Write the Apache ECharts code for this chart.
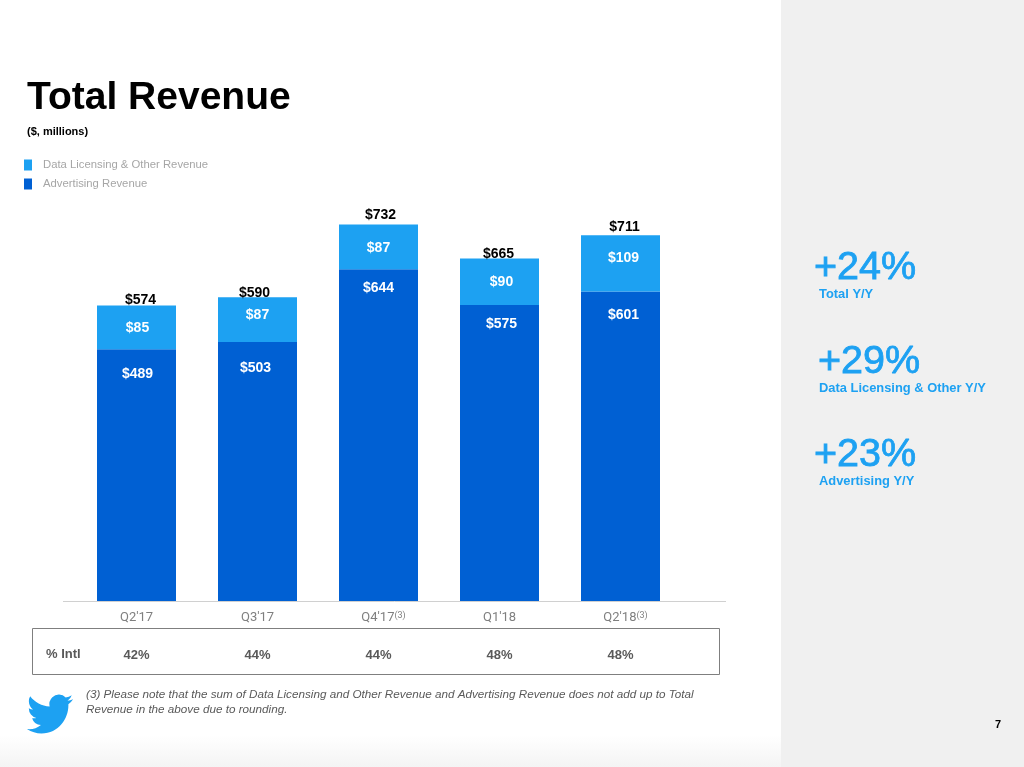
<!DOCTYPE html>
<html>
<head>
<meta charset="utf-8">
<title>Total Revenue</title>
<script src="https://cdn.jsdelivr.net/npm/echarts@6/dist/echarts.min.js"></script>
<style>
    html, body { margin: 0; padding: 0; background: #fff; }
    #main { width: 1024px; height: 767px; }
</style>
</head>
<body>
<div id="main"></div>
<script>
    var categories = ["Q2'17", "Q3'17", "Q4'17", "Q1'18", "Q2'18"];
    var footnoted = ["Q4'17", "Q2'18"];
    var advertising = [489, 503, 644, 575, 601];
    var licensing = [85, 87, 87, 90, 109];
    var totals = [574, 590, 732, 665, 711];
    var intlShare = ['42%', '44%', '44%', '48%', '48%'];

    // label nudges [x, y], the slide does not place these consistently
    var advertisingLabelShift = [[1, 1], [-2, 1], [0, 1], [2, 1], [3, 1]];
    var licensingLabelShift = [[1, 1], [0, -4], [0, 1], [2, 0], [3, -5]];
    var totalLabelShift = [[4, 2], [-3, 3], [2, -1], [-1, 3], [4, 0]];
    var advertisingLabelGap = [17, 18, 11, 11, 16];

    var LIGHT_BLUE = '#1da1f2';
    var DARK_BLUE = '#0060d3';
    var SANS = '"Liberation Sans", Arial, sans-serif';
    var BIRD = 'M23.953 4.57a10 10 0 0 1 -2.825 .775a4.958 4.958 0 0 0 2.163 -2.723c-.951 .555 -2.005 .959 -3.127 1.184a4.92 4.92 0 0 0 -8.384 4.482C7.69 8.095 4.067 6.13 1.64 3.162a4.822 4.822 0 0 0 -.666 2.475c0 1.71 .87 3.213 2.188 4.096a4.904 4.904 0 0 1 -2.228 -.616v.06a4.923 4.923 0 0 0 3.946 4.827a4.996 4.996 0 0 1 -2.212 .085a4.936 4.936 0 0 0 4.604 3.417a9.867 9.867 0 0 1 -6.102 2.105c-.39 0 -.779 -.023 -1.17 -.067a13.995 13.995 0 0 0 7.557 2.209c9.053 0 13.998 -7.496 13.998 -13.985c0 -.21 0 -.42 -.015 -.63A9.935 9.935 0 0 0 24 4.59z';

    // the graphic component has no plain path type, so register the logo as a shape
    echarts.graphic.registerShape('twitterBird', echarts.graphic.extendPath(BIRD, {}));

    function money(value) {
        return '$' + value;
    }

    function panelText(x, y, text, size, weight, color, style) {
        return {
            type: 'text',
            x: x,
            y: y,
            silent: true,
            style: {
                text: text,
                fontFamily: SANS,
                fontSize: size,
                fontWeight: weight || 'normal',
                fontStyle: style || 'normal',
                fill: color,
                lineHeight: size + 3,
                verticalAlign: 'middle'
            }
        };
    }

    // big Y/Y figures, the slide's face is a bit heavier than regular
    function bigFigure(x, y, text) {
        var el = panelText(x, y, text, 39.5, 'normal', LIGHT_BLUE);
        el.style.stroke = LIGHT_BLUE;
        el.style.lineWidth = 0.8;
        return el;
    }

    var chart = echarts.init(document.getElementById('main'));
    var option = {
        animation: false,
        backgroundColor: '#ffffff',
        textStyle: { fontFamily: SANS },
        title: {
            text: 'Total Revenue',
            subtext: '($, millions)',
            left: 27,
            top: 79,
            padding: 0,
            itemGap: 8,
            textStyle: { fontFamily: SANS, fontSize: 39, fontWeight: 'bold', color: '#000000' },
            subtextStyle: { fontFamily: SANS, fontSize: 11, fontWeight: 'bold', color: '#000000' }
        },
        legend: {
            data: ['Data Licensing & Other Revenue', 'Advertising Revenue'],
            orient: 'vertical',
            left: 24,
            top: 159.5,
            padding: 0,
            itemWidth: 8,
            itemHeight: 11,
            itemGap: 8,
            icon: 'rect',
            selectedMode: false,
            textStyle: { fontFamily: SANS, fontSize: 11.3, color: '#a6a6a6', padding: [0, 0, 0, 6] }
        },
        grid: { left: 76, right: 343, top: 189, bottom: 166 },
        xAxis: [
            {
                type: 'category',
                data: categories,
                axisLine: { show: false },
                axisTick: { show: false },
                axisLabel: {
                    interval: 0,
                    hideOverlap: false,
                    margin: 10,
                    fontFamily: 'Roboto',
                    fontSize: 13,
                    color: '#7f7f7f',
                    formatter: function (value) {
                        return footnoted.indexOf(value) >= 0 ? '{pad| }' + value + '{sup|(3)}' : value;
                    },
                    rich: {
                        pad: { width: 10 },
                        sup: { fontFamily: 'Roboto', fontSize: 9, color: '#7f7f7f', verticalAlign: 'top', padding: [0, 0, 5, 0] }
                    }
                }
            },
            {
                type: 'category',
                position: 'bottom',
                offset: 48,
                data: intlShare,
                axisLine: { show: false },
                axisTick: { show: false },
                axisLabel: { margin: 0, fontFamily: SANS, fontSize: 13, fontWeight: 'bold', color: '#595959', interval: 0 }
            }
        ],
        yAxis: { type: 'value', min: 0, max: 800, show: false },
        series: [
            {
                name: 'Advertising Revenue',
                type: 'bar',
                stack: 'revenue',
                barWidth: 79,
                itemStyle: { color: DARK_BLUE },
                data: advertising.map(function (value, i) {
                    return {
                        value: value,
                        label: { distance: advertisingLabelGap[i], offset: advertisingLabelShift[i] }
                    };
                }),
                label: {
                    show: true,
                    position: 'insideTop',
                    formatter: function (p) { return money(p.value); },
                    fontFamily: SANS,
                    fontSize: 14,
                    fontWeight: 'bold',
                    color: '#ffffff'
                }
            },
            {
                name: 'Data Licensing & Other Revenue',
                type: 'bar',
                stack: 'revenue',
                barWidth: 79,
                itemStyle: { color: LIGHT_BLUE },
                data: licensing.map(function (value, i) {
                    return {
                        value: value,
                        label: { offset: licensingLabelShift[i] }
                    };
                }),
                label: {
                    show: true,
                    position: 'inside',
                    formatter: function (p) { return money(p.value); },
                    fontFamily: SANS,
                    fontSize: 14,
                    fontWeight: 'bold',
                    color: '#ffffff'
                }
            },
            {
                name: 'Total',
                type: 'line',
                symbol: 'circle',
                symbolSize: 1,
                showAllSymbol: true,
                itemStyle: { color: 'transparent' },
                lineStyle: { opacity: 0 },
                data: totals.map(function (value, i) {
                    return {
                        value: value,
                        label: { offset: totalLabelShift[i] }
                    };
                }),
                label: {
                    show: true,
                    position: 'top',
                    distance: 0,
                    formatter: function (p) { return money(p.value); },
                    fontFamily: SANS,
                    fontSize: 14,
                    fontWeight: 'bold',
                    color: '#000000'
                }
            }
        ],
        graphic: [
            { type: 'rect', z: -10, silent: true, shape: { x: 781, y: 0, width: 243, height: 767 }, style: { fill: '#f0f0f0' } },
            {
                type: 'rect', z: -9, silent: true,
                shape: { x: 0, y: 735, width: 781, height: 32 },
                style: {
                    fill: new echarts.graphic.LinearGradient(0, 0, 0, 1, [
                        { offset: 0, color: '#ffffff' },
                        { offset: 1, color: '#f4f4f4' }
                    ])
                }
            },
            { type: 'line', silent: true, shape: { x1: 63, y1: 601.5, x2: 726, y2: 601.5 }, style: { stroke: '#d0d0d0', lineWidth: 1 } },
            { type: 'rect', silent: true, shape: { x: 32.5, y: 628.5, width: 687, height: 46 }, style: { fill: 'none', stroke: '#7f7f7f', lineWidth: 1 } },
            panelText(46, 654, '% Intl', 13, 'bold', '#595959'),
            panelText(86, 702, '(3) Please note that the sum of Data Licensing and Other Revenue and Advertising Revenue does not add up to Total\nRevenue in the above due to rounding.', 11.7, 'normal', '#595959', 'italic'),
            { type: 'twitterBird', silent: true, x: 27, y: 690, scaleX: 1.92, scaleY: 2, style: { fill: LIGHT_BLUE } },
            bigFigure(814, 268, '+24%'),
            panelText(819, 294, 'Total Y/Y', 12.9, 'bold', LIGHT_BLUE),
            bigFigure(818, 362, '+29%'),
            panelText(819, 388, 'Data Licensing & Other Y/Y', 12.9, 'bold', LIGHT_BLUE),
            bigFigure(814, 455, '+23%'),
            panelText(819, 481, 'Advertising Y/Y', 12.9, 'bold', LIGHT_BLUE),
            panelText(995, 725, '7', 11, 'bold', '#000000')
        ]
    };
    chart.setOption(option);
</script>
</body>
</html>
